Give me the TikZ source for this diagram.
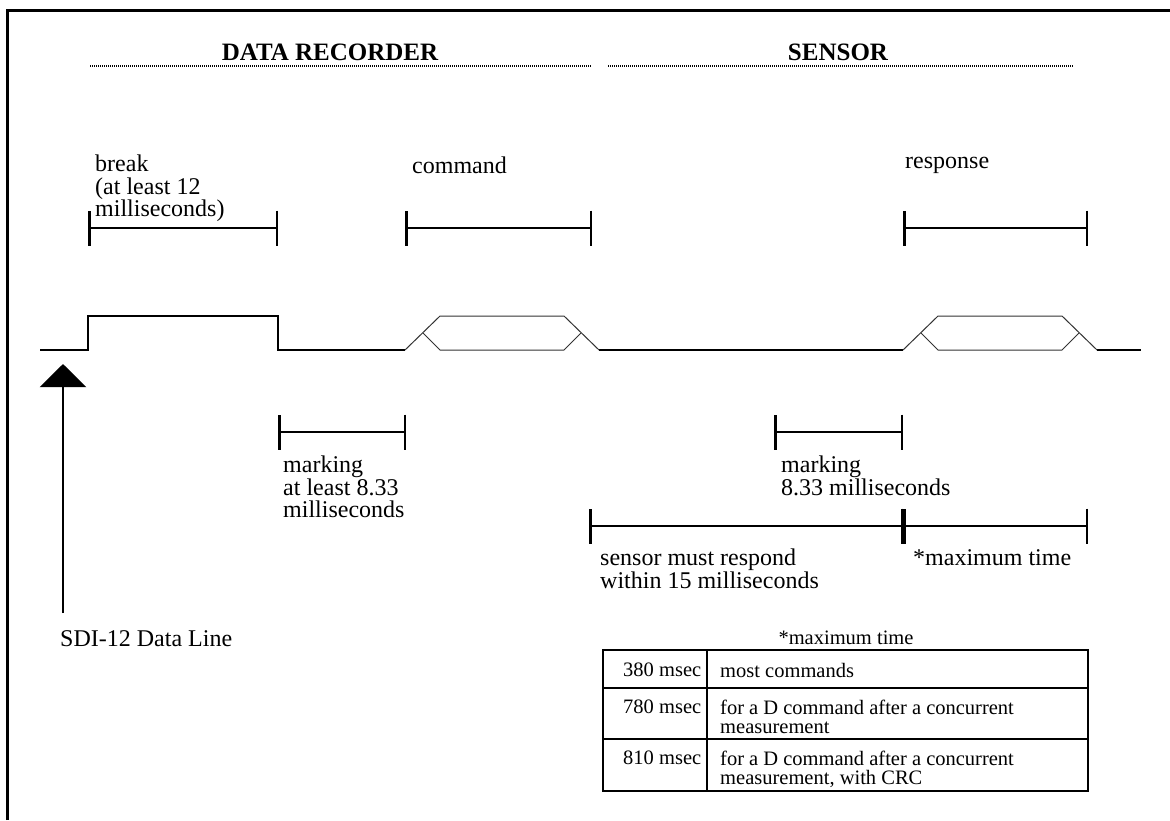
\documentclass[tikz,border=0pt]{standalone}
\usepackage{fontspec}
\setmainfont{Liberation Serif}
\usetikzlibrary{arrows.meta}
\usetikzlibrary{positioning}
\tikzset{span/.style = {line width=2.5, {Bar[width=35pt]}-{Bar[width=35pt]}}}
\tikzset{lbl/.style = {font=\fontsize{24}{22.5}\selectfont, align=left, inner sep=0, anchor=north west}}
\tikzset{hdr/.style = {font=\bfseries\fontsize{25}{25}\selectfont, inner sep=0, anchor=base}}
\tikzset{cell/.style = {font=\fontsize{20.5}{19}\selectfont, align=left, inner sep=0, anchor=north west}}
\tikzset{sig/.style = {line width=2.5}}
\tikzset{pkt/.style = {line width=1, black!80}}
\tikzset{tbl/.style = {line width=2}}
\tikzset{dots/.style = {line width=1.5, dash pattern=on 1pt off 1pt}}
\tikzset{pointer/.style = {line width=2.5, -{Triangle[width=46pt, length=23pt]}}}
\newcommand{\packet}[1]{
  \draw [pkt] (#1,350) -- ++(35,-34) -- ++(124,0) -- ++(35,34);
  \draw [pkt] (#1+18,333) -- ++(17,17) -- ++(124,0) -- ++(17,-17);
}

\begin{document}
\begin{tikzpicture}[x=1pt, y=-1pt]
      \useasboundingbox (0,0) rectangle (1170,820);
      \draw [line width=3] (7,820) -- (7,10) -- (1170,10);

      \node [hdr] (rec) at (330,60) {DATA RECORDER};
      \node [hdr] (sen) at (838,60) {SENSOR};
      \draw [dots] (90,66) -- (592,66);
      \draw [dots] (608,66) -- (1073,66);

      \node [lbl] (brk) at (95,155) {break\\(at least 12\\milliseconds)};
      \node [lbl] (cmd) at (412,157) {command};
      \node [lbl] (rsp) at (905,157) {response};

      \foreach \a/\b/\y in {88/278/228, 405/592/228, 903/1088/228, 278/406/432, 774/903/432, 589/903/526, 903/1088/526} {
        \draw [span] (\a,\y) -- (\b,\y);
      }

      \draw [sig] (40,350) -- (88,350) -- (88,316) -- (278,316) -- (278,350) -- (405,350);
      \draw [sig] (599,350) -- (903,350);
      \draw [sig] (1097,350) -- (1141,350);
      \packet{405}
      \packet{903}

      \node [lbl] (mrk1) at (283,456) {marking\\at least 8.33\\milliseconds};
      \node [lbl] (mrk2) at (781,456) {marking\\8.33 milliseconds};
      \node [lbl] (within) at (600,549) {sensor must respond\\within 15 milliseconds};
      \node [lbl] (maxt) at (913,549) {*maximum time};

      \node [lbl] (sdi) at (60,630) {SDI-12 Data Line};
      \coordinate (tail) at (63,613);
      \coordinate (tip) at (63,364);
      \draw [pointer] (tail) -- (tip);

      \node [cell, anchor=base] (ttl) at (846,644) {*maximum time};
      \draw [tbl] (603,650) rectangle (1088,791);
      \draw [tbl] (603,688) -- (1088,688);
      \draw [tbl] (603,739) -- (1088,739);
      \draw [tbl] (707,650) -- (707,791);
      \node [cell] (c11) at (623,663) {380 msec};
      \node [cell] (c12) at (720,663) {most commands};
      \node [cell] (c21) at (623,700) {780 msec};
      \node [cell] (c22) at (720,700) {for a D command after a concurrent\\measurement};
      \node [cell] (c31) at (623,751) {810 msec};
      \node [cell] (c32) at (720,751) {for a D command after a concurrent\\measurement, with CRC};
    \end{tikzpicture}
\end{document}
